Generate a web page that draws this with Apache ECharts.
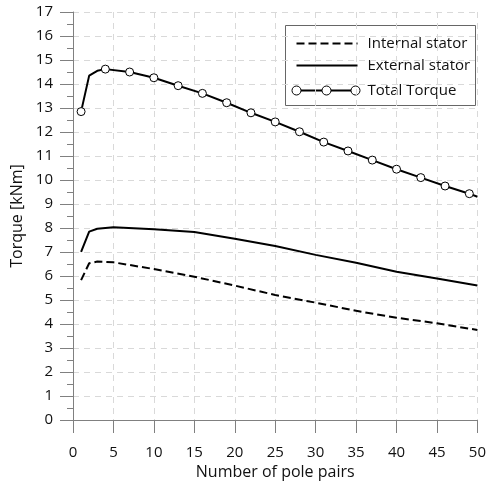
<!DOCTYPE html>
<html>
<head>
<meta charset="utf-8">
<script src="https://cdn.jsdelivr.net/npm/echarts@6/dist/echarts.min.js"></script>
<style>
  html, body { margin: 0; padding: 0; background: #fff; }
  #main { width: 489px; height: 486px; }
</style>
</head>
<body>
<div id="main"></div>
<script>
// values
var internalX = [1, 2, 3, 5, 10, 15, 20, 25, 30, 35, 40, 45, 50];
var internalY = [5.83, 6.53, 6.6, 6.57, 6.29, 5.97, 5.6, 5.21, 4.89, 4.55, 4.26, 4.03, 3.75];

var externalX = [1, 2, 3, 5, 10, 15, 20, 25, 30, 35, 40, 45, 50];
var externalY = [7.01, 7.85, 7.97, 8.03, 7.95, 7.83, 7.55, 7.25, 6.88, 6.55, 6.18, 5.9, 5.6];

var totalX = [1, 2, 3, 4, 7, 10, 13, 16, 19, 22, 25, 28, 31, 34, 37, 40, 43, 46, 49, 50];
var totalY = [12.85, 14.35, 14.55, 14.62, 14.5, 14.26, 13.93, 13.61, 13.22, 12.8, 12.42, 12.01, 11.58, 11.21, 10.83, 10.45, 10.1, 9.75, 9.43, 9.3];
var markerX = [1, 4, 7, 10, 13, 16, 19, 22, 25, 28, 31, 34, 37, 40, 43, 46, 49];

var seriesNames = ['Internal stator', 'External stator', 'Total Torque'];

function pairs(xs, ys) {
    var out = [];
    for (var i = 0; i < xs.length; i++) {
        out.push([xs[i], ys[i]]);
    }
    return out;
}

var font = '"Open Sans", sans-serif';
var textColor = '#111';
var axisColor = '#808080';
var legendFont = '15px "Open Sans"';
var gridLine = { show: true, lineStyle: { color: '#d9d9d9', type: [6, 5], width: 1 } };

var chart = echarts.init(document.getElementById('main'));
var option = {
    animation: false,
    backgroundColor: '#fff',
    textStyle: { fontFamily: font },
    grid: { left: 73, right: 8, top: 12, bottom: 66 },
    xAxis: {
        type: 'value',
        min: 0,
        max: 50,
        interval: 5,
        name: 'Number of pole pairs',
        nameLocation: 'middle',
        nameGap: 44,
        nameTextStyle: { fontFamily: font, fontSize: 16, color: textColor },
        axisLine: { show: true, lineStyle: { color: axisColor, width: 1 } },
        axisTick: { show: true, length: 13, lineStyle: { color: axisColor } },
        axisLabel: { margin: 25, fontFamily: font, fontSize: 15, color: textColor },
        splitLine: gridLine
    },
    yAxis: {
        type: 'value',
        min: 0,
        max: 17,
        interval: 1,
        name: 'Torque [kNm]',
        nameLocation: 'middle',
        nameGap: 48,
        nameTextStyle: { fontFamily: font, fontSize: 16, color: textColor },
        axisLine: { show: true, lineStyle: { color: axisColor, width: 1 } },
        axisTick: { show: true, length: 13, lineStyle: { color: axisColor } },
        minorTick: { show: true, splitNumber: 2, length: 6, lineStyle: { color: axisColor } },
        axisLabel: { margin: 20, fontFamily: font, fontSize: 15, color: textColor },
        splitLine: gridLine
    },
    series: [
        {
            name: seriesNames[0],
            type: 'line',
            data: pairs(internalX, internalY),
            symbol: 'none',
            lineStyle: { color: '#000', width: 2, type: [8, 4] }
        },
        {
            name: seriesNames[1],
            type: 'line',
            data: pairs(externalX, externalY),
            symbol: 'none',
            lineStyle: { color: '#000', width: 2 }
        },
        {
            name: seriesNames[2],
            type: 'line',
            data: pairs(totalX, totalY),
            symbol: function (val) {
                return markerX.indexOf(val[0]) >= 0 ? 'circle' : 'none';
            },
            symbolSize: 8,
            showAllSymbol: true,
            lineStyle: { color: '#000', width: 2 },
            itemStyle: { color: '#fff', borderColor: '#000', borderWidth: 1 }
        }
    ],
    graphic: [
        {
            type: 'group',
            left: 285,
            top: 25,
            z: 100,
            children: [
                { type: 'rect', shape: { x: 0, y: 0, width: 190, height: 80 },
                  style: { fill: '#fff', stroke: '#666', lineWidth: 1 } },
                { type: 'line', shape: { x1: 11, y1: 18, x2: 72, y2: 18 },
                  style: { stroke: '#000', lineWidth: 2, lineDash: [8, 4] } },
                { type: 'text', x: 82, y: 18,
                  style: { text: seriesNames[0], fill: textColor, font: legendFont, verticalAlign: 'middle' } },
                { type: 'line', shape: { x1: 11, y1: 40, x2: 72, y2: 40 },
                  style: { stroke: '#000', lineWidth: 2 } },
                { type: 'text', x: 82, y: 40,
                  style: { text: seriesNames[1], fill: textColor, font: legendFont, verticalAlign: 'middle' } },
                { type: 'line', shape: { x1: 11, y1: 65, x2: 70, y2: 65 },
                  style: { stroke: '#000', lineWidth: 2 } },
                { type: 'circle', shape: { cx: 11, cy: 65, r: 4.5 },
                  style: { fill: '#fff', stroke: '#000', lineWidth: 1 } },
                { type: 'circle', shape: { cx: 41, cy: 65, r: 4.5 },
                  style: { fill: '#fff', stroke: '#000', lineWidth: 1 } },
                { type: 'circle', shape: { cx: 70, cy: 65, r: 4.5 },
                  style: { fill: '#fff', stroke: '#000', lineWidth: 1 } },
                { type: 'text', x: 82, y: 65,
                  style: { text: seriesNames[2], fill: textColor, font: legendFont, verticalAlign: 'middle' } }
            ]
        }
    ]
};
chart.setOption(option);
</script>
</body>
</html>
